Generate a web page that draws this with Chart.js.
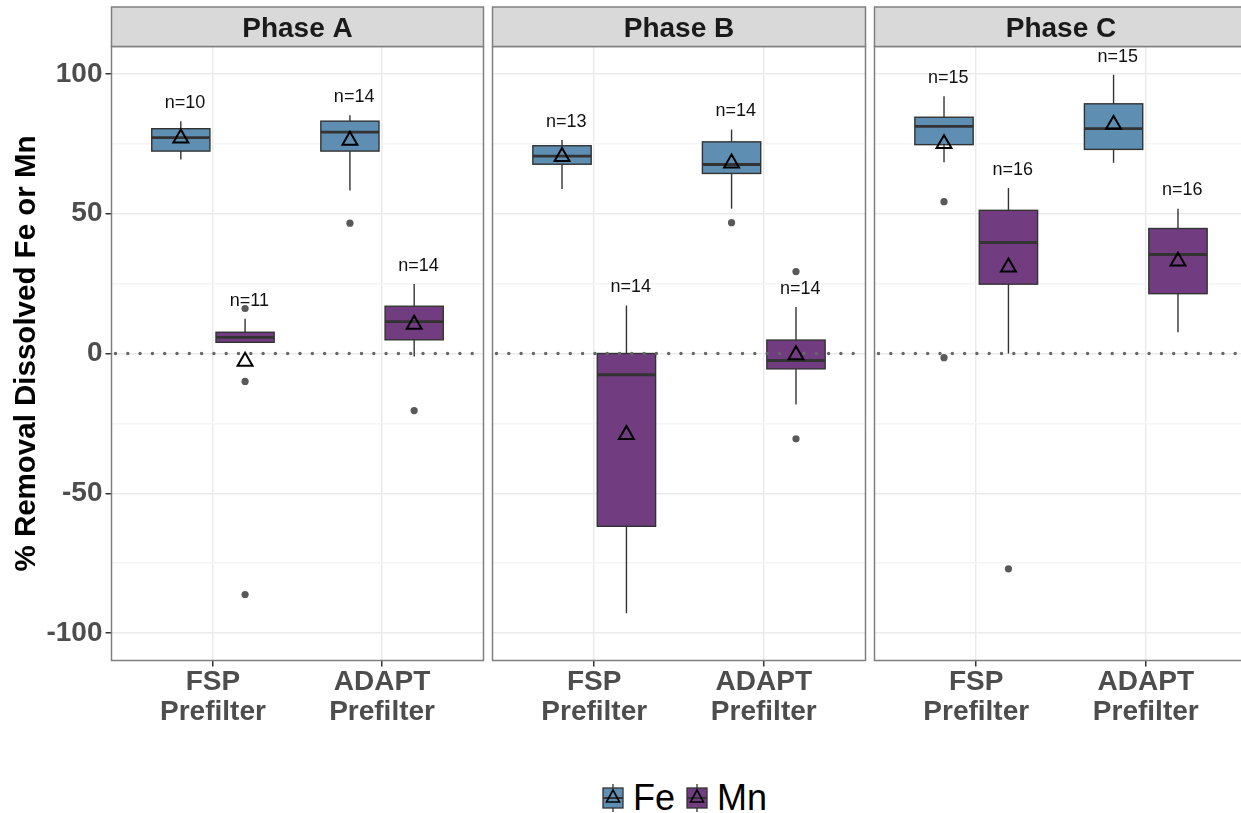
<!DOCTYPE html>
<html>
<head>
<meta charset="utf-8">
<script src="https://cdn.jsdelivr.net/npm/chart.js@4.4.1/dist/chart.umd.min.js"></script>
<style>
  html, body { margin: 0; padding: 0; background: #fff; width: 1241px; height: 813px; overflow: hidden; }
  canvas.panel { position: absolute; top: 0; }
  #legend { position: absolute; left: 601px; top: 780px; display: flex; align-items: center;
            font-family: "Liberation Sans", Arial, sans-serif; font-size: 36px; color: #000; }
  #legend canvas { margin-right: 8px; }
  #legend span { margin-right: 10px; line-height: 36px; }
</style>
</head>
<body>
<canvas id="panelA" class="panel" width="490" height="760" style="left:0px"></canvas>
<canvas id="panelB" class="panel" width="386" height="760" style="left:486px"></canvas>
<canvas id="panelC" class="panel" width="386" height="760" style="left:867.5px"></canvas>
<div id="legend">
  <canvas id="keyFe" width="24" height="28"></canvas><span>Fe</span>
  <canvas id="keyMn" width="24" height="28"></canvas><span>Mn</span>
</div>
<script>
const phases = ['Phase A', 'Phase B', 'Phase C'];
const filterLabels = [['FSP', 'Prefilter'], ['ADAPT', 'Prefilter']];
const yBreaks = [-100, -75, -50, -25, 0, 25, 50, 75, 100];

// one row per phase, each row is [FSP, ADAPT]
const feLow      = [[69.4, 58.3], [58.8, 51.8], [68.4, 68.2]];
const feQ1       = [[72.4, 72.4], [67.7, 64.4], [74.7, 73.0]];
const feMedian   = [[77.2, 79.2], [70.6, 67.6], [81.2, 80.4]];
const feQ3       = [[80.4, 83.1], [74.3, 75.7], [84.5, 89.3]];
const feHigh     = [[83.1, 85.2], [76.4, 80.1], [92.0, 99.7]];
const feMean     = [[77.0, 76.2], [70.4, 68.1], [75.0, 81.9]];
const feN        = [[10, 14], [13, 14], [15, 15]];
const feOutliers = [[[], [46.6]], [[], [46.8]], [[54.3, -1.5], []]];

const mnLow      = [[3.8, -1.1], [-92.9, -18.2], [0, 7.6]];
const mnQ1       = [[4.0, 4.9], [-61.8, -5.5], [24.8, 21.4]];
const mnMedian   = [[5.8, 11.4], [-7.6, -2.5], [39.7, 35.4]];
const mnQ3       = [[7.6, 16.9], [0, 4.8], [51.2, 44.7]];
const mnHigh     = [[12.4, 24.9], [17.2, 16.6], [59.2, 51.8]];
const mnMean     = [[-2.8, 10.4], [-29.0, -0.5], [30.9, 33.0]];
const mnN        = [[11, 14], [14, 14], [16, 16]];
const mnOutliers = [[[16.1, -10.0, -86.2], [-20.4]], [[], [29.3, -30.5]], [[-77.0], []]];

const FE_COLOR = '#5e8eb2';
const MN_COLOR = '#713d80';
const DODGE = 0.19;      // half the distance between Fe and Mn boxes
const HALF_BOX = 0.172;  // half box width, in x units
const FONT = '"Liberation Sans", Arial, sans-serif';

Chart.defaults.font.family = FONT;

function series(p) {
  return [
    { name: 'Fe', color: FE_COLOR, shift: -DODGE, low: feLow[p], q1: feQ1[p], med: feMedian[p],
      q3: feQ3[p], high: feHigh[p], mean: feMean[p], n: feN[p], out: feOutliers[p] },
    { name: 'Mn', color: MN_COLOR, shift: DODGE, low: mnLow[p], q1: mnQ1[p], med: mnMedian[p],
      q3: mnQ3[p], high: mnHigh[p], mean: mnMean[p], n: mnN[p], out: mnOutliers[p] }
  ];
}

// boxes, zero line, panel frame, strip and n= labels
function facetPlugin(p) {
  return {
    id: 'facet' + p,
    beforeDatasetsDraw(chart) {
      const { ctx, chartArea: a, scales: { x, y } } = chart;
      ctx.save();
      series(p).forEach(s => {
        s.med.forEach((m, i) => {
          const xc = x.getPixelForValue(i + s.shift);
          const hw = x.getPixelForValue(HALF_BOX) - x.getPixelForValue(0);
          ctx.strokeStyle = '#333';
          ctx.lineWidth = 1.4;
          ctx.beginPath();
          ctx.moveTo(xc, y.getPixelForValue(s.high[i]));
          ctx.lineTo(xc, y.getPixelForValue(s.low[i]));
          ctx.stroke();
          const top = y.getPixelForValue(s.q3[i]);
          const bot = y.getPixelForValue(s.q1[i]);
          ctx.fillStyle = s.color;
          ctx.fillRect(xc - hw, top, 2 * hw, bot - top);
          ctx.strokeRect(xc - hw, top, 2 * hw, bot - top);
          ctx.lineWidth = 2.8;
          ctx.beginPath();
          ctx.moveTo(xc - hw, y.getPixelForValue(m));
          ctx.lineTo(xc + hw, y.getPixelForValue(m));
          ctx.stroke();
        });
      });
      // dotted reference line at zero
      const y0 = y.getPixelForValue(0);
      ctx.strokeStyle = '#666';
      ctx.lineWidth = 3.4;
      ctx.lineCap = 'round';
      ctx.setLineDash([0, 12.3]);
      ctx.beginPath();
      ctx.moveTo(a.left + 4, y0);
      ctx.lineTo(a.right, y0);
      ctx.stroke();
      ctx.restore();
    },
    afterDraw(chart) {
      const { ctx, chartArea: a, scales: { x, y } } = chart;
      ctx.save();
      ctx.strokeStyle = '#7f7f7f';
      ctx.lineWidth = 1.5;
      ctx.strokeRect(a.left, a.top, a.right - a.left, a.bottom - a.top);
      // strip
      ctx.fillStyle = '#d9d9d9';
      ctx.fillRect(a.left, 7, a.right - a.left, a.top - 7);
      ctx.strokeRect(a.left, 7, a.right - a.left, a.top - 7);
      ctx.fillStyle = '#1a1a1a';
      ctx.font = 'bold 28px ' + FONT;
      ctx.textAlign = 'center';
      ctx.textBaseline = 'middle';
      ctx.fillText(phases[p], (a.left + a.right) / 2, (7 + a.top) / 2 + 2.5);
      // sample sizes
      ctx.font = '18px ' + FONT;
      ctx.fillStyle = '#111';
      series(p).forEach(s => {
        s.n.forEach((n, i) => {
          ctx.fillText('n=' + n, x.getPixelForValue(i + s.shift + 0.025), y.getPixelForValue(s.high[i] + 6.5));
        });
      });
      ctx.restore();
    }
  };
}

function makeChart(id, p) {
  const first = p === 0;
  const datasets = [];
  series(p).forEach(s => {
    const pts = [];
    s.out.forEach((vals, i) => vals.forEach(v => pts.push({ x: i + s.shift, y: v })));
    datasets.push({ label: s.name + ' outliers', data: pts, pointRadius: 3.6,
      backgroundColor: '#595959', borderWidth: 0 });
  });
  series(p).forEach(s => {
    datasets.push({ label: s.name + ' mean', data: s.mean.map((m, i) => ({ x: i + s.shift, y: m })),
      pointStyle: 'triangle', pointRadius: 8.6, borderColor: '#000', borderWidth: 2,
      backgroundColor: 'rgba(0,0,0,0)' });
  });

  return new Chart(document.getElementById(id), {
    type: 'scatter',
    data: { datasets },
    options: {
      responsive: false,
      animation: false,
      devicePixelRatio: 1,
      layout: { autoPadding: false, padding: { top: 46.5, bottom: 0, left: first ? 0 : 6.5, right: 6.5 } },
      plugins: { legend: { display: false }, tooltip: { enabled: false } },
      scales: {
        x: {
          type: 'linear', min: -0.6, max: 1.6,
          afterBuildTicks: s => { s.ticks = [{ value: 0 }, { value: 1 }]; },
          afterFit: s => { s.height = 99.5; },
          border: { display: false },
          grid: { color: '#ebebeb', lineWidth: 1.5, tickColor: '#333', tickLength: 6 },
          ticks: {
            callback: (v, i) => filterLabels[i],
            font: { size: 28, weight: 'bold', lineHeight: 1.1 },
            color: '#4d4d4d', padding: 0, maxRotation: 0, autoSkip: false
          }
        },
        y: {
          min: -109.8, max: 109.8,
          afterBuildTicks: s => { s.ticks = yBreaks.map(v => ({ value: v })); },
          afterFit: s => { s.width = first ? 111.5 : 0; },
          border: { display: false },
          grid: {
            color: c => (c.tick && c.tick.value % 50 === 0) ? '#ebebeb' : '#f5f5f5',
            tickColor: c => (c.tick && c.tick.value % 50 === 0) ? '#333' : 'rgba(0,0,0,0)',
            lineWidth: 1.5, tickLength: 6, drawTicks: first
          },
          ticks: {
            display: first,
            callback: v => (v % 50 === 0 ? String(v) : ''),
            font: { size: 28, weight: 'bold' },
            color: '#4d4d4d', padding: 3
          },
          title: {
            display: first,
            text: '% Removal Dissolved Fe or Mn',
            font: { size: 29.5, weight: 'bold' },
            color: '#000',
            padding: { top: 9.5, bottom: 0 }
          }
        }
      }
    },
    plugins: [facetPlugin(p)]
  });
}

makeChart('panelA', 0);
makeChart('panelB', 1);
makeChart('panelC', 2);

// legend keys: box with whisker and mean marker
function drawKey(id, color) {
  const ctx = document.getElementById(id).getContext('2d');
  ctx.strokeStyle = '#333';
  ctx.lineWidth = 1.3;
  ctx.beginPath();
  ctx.moveTo(12, 0);
  ctx.lineTo(12, 28);
  ctx.stroke();
  ctx.fillStyle = color;
  ctx.fillRect(2, 4, 20, 20);
  ctx.strokeRect(2, 4, 20, 20);
  ctx.lineWidth = 2;
  ctx.beginPath();
  ctx.moveTo(2, 14);
  ctx.lineTo(22, 14);
  ctx.stroke();
  ctx.strokeStyle = '#000';
  ctx.lineWidth = 1.6;
  ctx.beginPath();
  ctx.moveTo(12, 6);
  ctx.lineTo(18.5, 18);
  ctx.lineTo(5.5, 18);
  ctx.closePath();
  ctx.stroke();
}
drawKey('keyFe', FE_COLOR);
drawKey('keyMn', MN_COLOR);
</script>
</body>
</html>
